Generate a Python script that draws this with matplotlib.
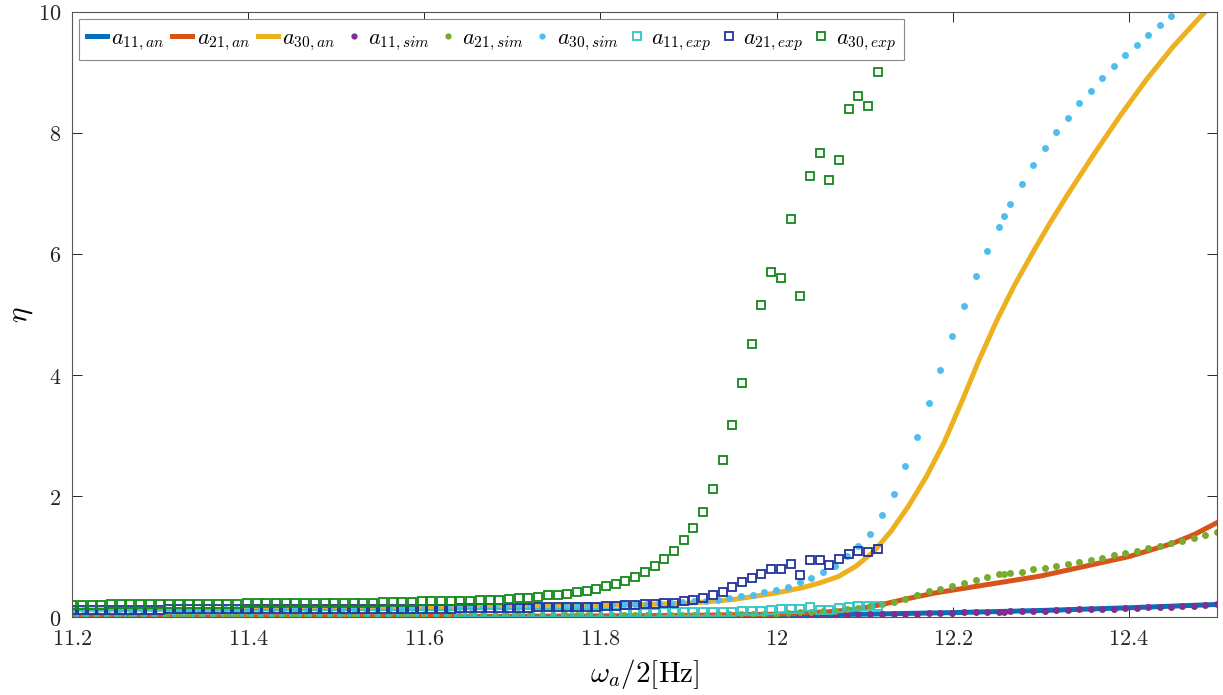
import numpy as np
import matplotlib
matplotlib.use('Agg')
import matplotlib.pyplot as plt

plt.rcParams['mathtext.fontset'] = 'cm'
plt.rcParams['font.family'] = ['DejaVu Serif']

# analytical curves
x_a11_an = [11.2, 11.6, 11.8, 12.0, 12.1, 12.2, 12.3, 12.4, 12.5]
a11_an = [0.0, 0.005, 0.012, 0.03, 0.05, 0.075, 0.11, 0.155, 0.21]

x_a21_an = [11.2, 11.6, 11.8, 11.9, 12.0, 12.03, 12.06, 12.09, 12.12, 12.15,
            12.18, 12.24, 12.3, 12.35, 12.4, 12.45, 12.475, 12.5]
a21_an = [0.0, 0.01, 0.02, 0.03, 0.05, 0.07, 0.09, 0.13, 0.21, 0.31,
          0.40, 0.54, 0.68, 0.84, 1.00, 1.22, 1.37, 1.56]

x_a30_an = [11.2, 11.4, 11.5, 11.6, 11.7, 11.8, 11.85, 11.9, 11.95, 12.0,
            12.03, 12.05, 12.07, 12.09, 12.11, 12.13, 12.15, 12.17, 12.19, 12.21,
            12.23, 12.25, 12.27, 12.29, 12.31, 12.33, 12.36, 12.39, 12.42, 12.45,
            12.48, 12.5]
a30_an = [0.12, 0.13, 0.14, 0.15, 0.17, 0.19, 0.21, 0.23, 0.29, 0.40,
          0.49, 0.57, 0.67, 0.84, 1.08, 1.42, 1.84, 2.32, 2.88, 3.55,
          4.25, 4.90, 5.48, 6.00, 6.50, 6.97, 7.64, 8.28, 8.88, 9.42,
          9.90, 10.2]

# simulation sample frequencies
x_sim = np.concatenate([np.linspace(11.2, 12.2527, 80), [12.2588],
                        np.linspace(12.2656, 12.5, 19)])

a11_sim = ([0.00] * 15 + [0.01] * 30 + [0.02] * 15 +
           [0.03, 0.03, 0.03, 0.04, 0.04, 0.04, 0.04, 0.05, 0.05, 0.05,
            0.06, 0.06, 0.06, 0.07, 0.07, 0.07, 0.08, 0.08, 0.08, 0.09] +
           [0.09] +
           [0.10, 0.10, 0.11, 0.11, 0.12, 0.12, 0.13, 0.13, 0.14, 0.14,
            0.15, 0.15, 0.16, 0.16, 0.17, 0.18, 0.19, 0.20, 0.21])

a21_sim = ([0.02] * 20 + [0.03] * 20 + [0.04] * 15 + [0.05] * 5 +
           [0.06, 0.07, 0.08, 0.09, 0.10, 0.11, 0.13, 0.15, 0.18, 0.21,
            0.25, 0.30, 0.37, 0.43, 0.47, 0.52, 0.57, 0.61, 0.66, 0.71] +
           [0.72] +
           [0.73, 0.75, 0.79, 0.82, 0.85, 0.88, 0.91, 0.94, 0.98, 1.02,
            1.06, 1.10, 1.15, 1.18, 1.22, 1.26, 1.31, 1.35, 1.40])

a30_sim = ([0.12, 0.12, 0.12, 0.12, 0.12, 0.12, 0.12, 0.12, 0.12, 0.12,
            0.12, 0.12, 0.12, 0.13, 0.13, 0.13, 0.13, 0.13, 0.13, 0.13,
            0.13, 0.13, 0.13, 0.14, 0.14, 0.14, 0.14, 0.14, 0.14, 0.15,
            0.15, 0.15, 0.15, 0.16, 0.16, 0.16, 0.17, 0.17, 0.17, 0.18,
            0.18, 0.18, 0.19, 0.19, 0.20, 0.20, 0.21, 0.21, 0.22, 0.22,
            0.23, 0.24, 0.25, 0.26, 0.27,
            0.28, 0.31, 0.35, 0.37, 0.41, 0.45, 0.50, 0.58, 0.65, 0.74,
            0.85, 1.01, 1.17, 1.38, 1.69, 2.03, 2.50, 2.97, 3.53, 4.08,
            4.64, 5.14, 5.63, 6.05, 6.45] +
           [6.63] +
           [6.82, 7.15, 7.47, 7.75, 8.01, 8.25, 8.49, 8.70, 8.90, 9.10,
            9.29, 9.45, 9.62, 9.78, 9.93, np.nan, np.nan, np.nan, np.nan])

# experiment sample frequencies
x_exp = np.linspace(11.2, 12.115, 84)

a11_exp = ([0.05] * 20 + [0.06] * 20 + [0.07] * 20 +
           [0.07, 0.08, 0.08, 0.08, 0.08, 0.08, 0.08, 0.09, 0.09, 0.10,
            0.10, 0.11, 0.12, 0.13, 0.14, 0.14, 0.16, 0.12, 0.12, 0.15,
            0.17, 0.18, 0.18, 0.19])

a21_exp = ([0.12] * 10 + [0.13] * 15 + [0.14] * 15 + [0.15] * 8 + [0.16] * 4 + [0.17] * 3 +
           [0.18, 0.19, 0.20, 0.20, 0.21, 0.22, 0.23, 0.24, 0.26, 0.28,
            0.31, 0.36, 0.42, 0.50, 0.58, 0.65, 0.72, 0.79, 0.79, 0.87,
            0.70, 0.95, 0.94, 0.86, 0.96, 1.04, 1.09, 1.08, 1.13])

a30_exp = [0.20, 0.20, 0.20, 0.20, 0.21, 0.21, 0.21, 0.21, 0.21, 0.21,
           0.22, 0.22, 0.22, 0.22, 0.22, 0.22, 0.22, 0.22, 0.23, 0.23,
           0.23, 0.23, 0.23, 0.23, 0.23, 0.24, 0.24, 0.24, 0.24, 0.24,
           0.24, 0.24, 0.25, 0.25, 0.25, 0.25, 0.26, 0.26,
           0.26, 0.27, 0.27, 0.27, 0.28, 0.28, 0.29, 0.30, 0.31, 0.32,
           0.34, 0.36, 0.37, 0.39, 0.41, 0.44, 0.47, 0.51, 0.55, 0.60,
           0.67, 0.75, 0.85, 0.96, 1.10, 1.27, 1.48, 1.74, 2.12, 2.60,
           3.17, 3.86, 4.51, 5.15, 5.70, 5.60, 6.58, 5.30, 7.29, 7.66,
           7.22, 7.56, 8.39, 8.61, 8.45, 9.01]

xticks = [11.2, 11.4, 11.6, 11.8, 12.0, 12.2, 12.4]
yticks = [0, 2, 4, 6, 8, 10]

fig = plt.figure(figsize=(12.23, 6.95), dpi=100)
ax = fig.add_axes([0.059, 0.112, 0.936, 0.871])

lw = 3.6
ax.plot(x_a11_an, a11_an, color='#0072BD', lw=lw, label=r'$a_{11,an}$')
ax.plot(x_a21_an, a21_an, color='#D95319', lw=lw, label=r'$a_{21,an}$')
ax.plot(x_a30_an, a30_an, color='#EDB120', lw=lw, label=r'$a_{30,an}$')

ms = 5
ax.plot(x_sim, a11_sim, 'o', color='#7E2F8E', ms=ms, mew=0, label=r'$a_{11,sim}$')
ax.plot(x_sim, a21_sim, 'o', color='#77AC30', ms=ms, mew=0, label=r'$a_{21,sim}$')
ax.plot(x_sim, a30_sim, 'o', color='#4DBEEE', ms=ms, mew=0, label=r'$a_{30,sim}$')

sq = 6
ax.plot(x_exp, a11_exp, 's', mfc='none', mec='#2EC4C4', ms=sq, mew=1.3, label=r'$a_{11,exp}$')
ax.plot(x_exp, a21_exp, 's', mfc='none', mec='#22319B', ms=sq, mew=1.3, label=r'$a_{21,exp}$')
ax.plot(x_exp, a30_exp, 's', mfc='none', mec='#12881A', ms=sq, mew=1.3, label=r'$a_{30,exp}$')

ax.set_xlim(11.2, 12.5)
ax.set_ylim(0, 10)
ax.set_xticks(xticks)
ax.set_xticklabels([f'${t:g}$' for t in xticks])
ax.set_yticks(yticks)
ax.set_yticklabels([f'${t}$' for t in yticks])
ax.tick_params(direction='in', length=7, width=0.7, top=True, right=True,
               labelsize=16, colors='#262626', pad=8)
for s in ax.spines.values():
    s.set_color('#555555')
    s.set_linewidth(0.8)

ax.set_xlabel(r'$\omega_a/2[\mathrm{Hz}]$', fontsize=21, labelpad=5)
ax.set_ylabel(r'$\eta$', fontsize=21, labelpad=2)

leg = ax.legend(loc='upper left', bbox_to_anchor=(0.006, 0.988), ncol=9,
                fontsize=16, handlelength=0.9, handletextpad=0.2,
                columnspacing=0.35, borderpad=0.35, numpoints=1,
                fancybox=False, framealpha=1, borderaxespad=0, markerscale=0.9)
leg.get_frame().set_edgecolor('#888888')
leg.get_frame().set_linewidth(0.8)

fig.savefig('out.png', dpi=100)
